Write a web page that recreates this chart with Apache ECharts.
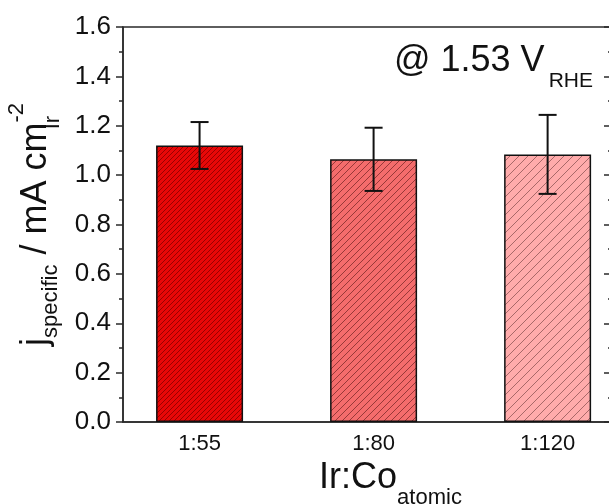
<!DOCTYPE html>
<html><head><meta charset="utf-8">
<script src="https://cdn.jsdelivr.net/npm/echarts@6/dist/echarts.min.js"></script>
<style>html,body{margin:0;padding:0;background:#fff}#c{width:609px;height:504px}</style>
</head><body><div id="c"></div>
<script>
const categories = ['1:55', '1:80', '1:120'];
const categoryPos = [1, 2, 3];
const values = [1.12, 1.064, 1.084];
const errors = [0.095, 0.128, 0.16];
const barColors = ['#e80808', '#f46c6c', '#ffabab'];
const hatchColors = ['#9a0000', '#983838', '#a86868'];
const hatchSpacing = [5, 7, 9];

const F = 'Liberation Sans, Arial, sans-serif';
const AX = '#2a2a2a';

function hatch(bg, line, s) {
  const c = document.createElement('canvas');
  c.width = s; c.height = s;
  const g = c.getContext('2d');
  g.fillStyle = bg; g.fillRect(0, 0, s, s);
  g.strokeStyle = line; g.lineWidth = 1;
  g.beginPath();
  for (let k = -1; k <= 1; k++) { g.moveTo(k * s, s); g.lineTo(k * s + s, 0); }
  g.stroke();
  return c;
}
function tok(size, lh, padTop, extra) {
  return Object.assign({ fontFamily: F, fontSize: size, fontWeight: 'normal', color: '#111',
    lineHeight: lh, verticalAlign: 'top', padding: [padTop, 0, 0, 0] }, extra || {});
}

const chart = echarts.init(document.getElementById('c'));
chart.setOption({
  animation: false,
  backgroundColor: '#fff',
  title: {
    text: '{m|@ 1.53 V}{s|RHE}',
    left: 394, top: 43, padding: 0,
    textStyle: { fontWeight: 'normal', rich: { m: tok(36, 40, 0), s: tok(21, 21, 28, { padding: [28, 0, 0, 4] }) } }
  },
  grid: { left: 123, top: 27, bottom: 82, right: -3, show: true, borderColor: AX, borderWidth: 1.5,
    outerBoundsMode: 'none', containLabel: false },
  xAxis: {
    type: 'value', min: 0.56, max: 3.37,
    axisLine: { show: true, lineStyle: { color: AX, width: 1.5 } },
    axisTick: { show: false },
    splitLine: { show: false },
    axisLabel: {
      customValues: categoryPos,
      formatter: v => categories[Math.round(v) - 1],
      fontFamily: F, fontSize: 22, color: '#111', margin: 11
    },
    name: '{m|Ir:Co}{s|atomic}',
    nameLocation: 'middle', nameGap: 37,
    nameTextStyle: { padding: [0, 0, 0, 46], rich: { m: tok(36, 40, 0), s: tok(22, 22, 27) } }
  },
  yAxis: [{
    type: 'value', min: 0, max: 1.6, interval: 0.2, position: 'left',
    axisLine: { show: true, lineStyle: { color: AX, width: 1.5 } },
    axisTick: { show: true, inside: false, length: 7, lineStyle: { color: AX, width: 1.5 } },
    minorTick: { show: true, splitNumber: 2, length: 4, lineStyle: { color: AX, width: 1.5 } },
    splitLine: { show: false },
    axisLabel: { fontFamily: F, fontSize: 26, color: '#111', margin: 12, formatter: v => v.toFixed(1) },
    name: '{m|j}{s|specific}{m| / mA cm}{s2|Ir}{p|-2}',
    nameLocation: 'middle', nameRotate: 90, nameGap: 60,
    nameTextStyle: {
      rich: { m: tok(36, 40, 12), s: tok(22, 22, 34), s2: tok(22, 22, 36, { width: 0 }), p: tok(22, 22, 0) }
    }
  }, {
    type: 'value', min: 0, max: 1.6, interval: 0.2, position: 'right',
    axisLine: { show: true, lineStyle: { color: AX, width: 1.5 } },
    axisTick: { show: true, inside: true, length: 8, lineStyle: { color: AX, width: 1.5 } },
    minorTick: { show: true, splitNumber: 2, length: 4, lineStyle: { color: AX, width: 1.5 } },
    splitLine: { show: false },
    axisLabel: { show: false }
  }],
  series: [{
    type: 'bar', barWidth: 87,
    itemStyle: { borderColor: '#111', borderWidth: 1.5 },
    data: values.map((v, i) => ({
      value: [categoryPos[i], v],
      itemStyle: { color: { image: hatch(barColors[i], hatchColors[i], hatchSpacing[i]), repeat: 'repeat' } }
    })),
    z: 2
  }, {
    type: 'custom',
    encode: { x: 0, y: [1, 2] },
    data: values.map((v, i) => [categoryPos[i], v - errors[i], v + errors[i]]),
    renderItem: function (params, api) {
      const x = api.value(0);
      const lo = api.coord([x, api.value(1)]);
      const hi = api.coord([x, api.value(2)]);
      const hw = 9;
      const st = { stroke: '#111', lineWidth: 2 };
      return {
        type: 'group', children: [
          { type: 'line', shape: { x1: lo[0], y1: lo[1], x2: hi[0], y2: hi[1] }, style: st },
          { type: 'line', shape: { x1: lo[0] - hw, y1: lo[1], x2: lo[0] + hw, y2: lo[1] }, style: st },
          { type: 'line', shape: { x1: hi[0] - hw, y1: hi[1], x2: hi[0] + hw, y2: hi[1] }, style: st }
        ]
      };
    },
    z: 3
  }]
});
</script>
</body></html>
